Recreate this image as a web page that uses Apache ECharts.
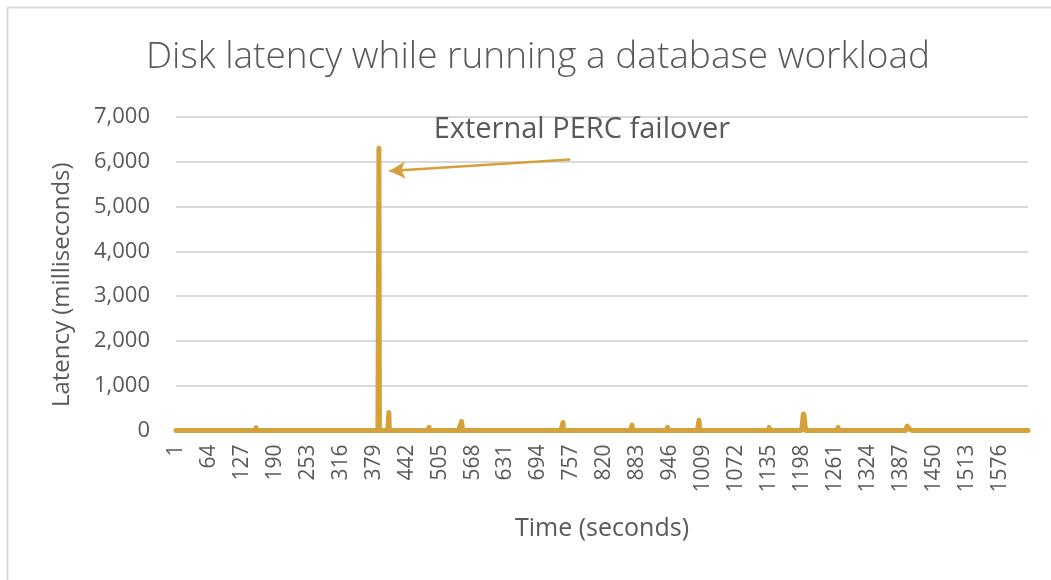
<!DOCTYPE html>
<html>
<head>
<meta charset="utf-8">
<script src="https://cdn.jsdelivr.net/npm/echarts@6/dist/echarts.min.js"></script>
<style>
html,body{margin:0;padding:0;background:#fff;}
#chart{width:1051px;height:580px;}
</style>
</head>
<body>
<div id="chart"></div>
<script>
// Time axis: seconds 1..1630
const firstSecond = 1;
const lastSecond = 1630;
// Latency is ~0 ms except at these [second, latency ms] readings
const baselineLatency = 0;
const latencySpikes = [
  [154, 60],
  [389, 6300],
  [408, 400],
  [485, 70],
  [541, 20], [543, 70], [545, 130], [547, 200], [548, 240],
  [741, 180],
  [873, 120],
  [941, 70],
  [1001, 230],
  [1135, 70],
  [1198, 80], [1199, 200], [1200, 320], [1201, 370], [1202, 320], [1203, 200], [1204, 80],
  [1267, 70],
  [1398, 40], [1399, 100], [1400, 130], [1401, 130], [1402, 100], [1403, 40]
];
const yTicks = [0, 1000, 2000, 3000, 4000, 5000, 6000, 7000];
// Annotation anchors [second, latency]
const annotationText = 'External PERC failover';
const annotationTextAt = ['777', 6719];
const arrowFrom = ['755', 6053];
const arrowTo = ['409', 5792];

const categories = [];
for (let s = firstSecond; s <= lastSecond; s++) categories.push(String(s));
const spikeMap = new Map(latencySpikes);
const latency = categories.map(c => spikeMap.has(+c) ? spikeMap.get(+c) : baselineLatency);

const gold = '#D5A13A';
const textColor = '#595959';
const font = 'Open Sans';

const chart = echarts.init(document.getElementById('chart'), null, {renderer: 'canvas'});
chart.setOption({
  animation: false,
  backgroundColor: '#fff',
  title: {
    text: 'Disk latency while running a database workload',
    left: 533,
    textAlign: 'center',
    top: 34,
    textStyle: {fontFamily: font, fontWeight: 300, fontSize: 37, color: textColor}
  },
  graphic: [{
    type: 'rect', left: 5, top: 5, silent: true,
    shape: {width: 1070, height: 600},
    style: {fill: 'none', stroke: '#d9d9d9', lineWidth: 2}
  }],
  grid: {left: 176, right: 23, top: 117, bottom: 149.5, containLabel: false},
  xAxis: {
    type: 'category',
    data: categories,
    boundaryGap: false,
    name: 'Time (seconds)',
    nameLocation: 'middle',
    nameGap: 86,
    nameTextStyle: {fontFamily: font, fontSize: 25, color: textColor},
    axisLine: {show: true, lineStyle: {color: '#d9d9d9', width: 1}},
    axisTick: {show: false},
    axisLabel: {interval: 62, rotate: 90, fontFamily: font, fontSize: 21, color: textColor, margin: 14},
    splitLine: {show: false}
  },
  yAxis: {
    type: 'value',
    min: yTicks[0],
    max: yTicks[yTicks.length - 1],
    interval: 1000,
    name: 'Latency (milliseconds)',
    nameLocation: 'middle',
    nameGap: 102,
    nameTextStyle: {fontFamily: font, fontSize: 24, color: textColor, padding: [0, 22, 0, 0]},
    axisLine: {show: false},
    axisTick: {show: false},
    axisLabel: {
      fontFamily: font, fontSize: 22, color: textColor, margin: 26,
      formatter: v => v.toLocaleString('en-US')
    },
    splitLine: {lineStyle: {color: '#d9d9d9', width: 2}}
  },
  series: [{
    type: 'line',
    data: latency,
    showSymbol: false,
    symbol: 'none',
    sampling: null,
    lineStyle: {color: gold, width: 5, cap: 'round', join: 'round'},
    itemStyle: {color: gold},
    z: 3,
    markLine: {
      silent: true,
      symbol: ['none', 'arrow'],
      symbolSize: [13, 16],
      lineStyle: {color: gold, width: 2.5, type: 'solid'},
      label: {show: false},
      data: [[{coord: arrowFrom}, {coord: arrowTo}]]
    },
    markPoint: {
      silent: true,
      symbol: 'circle',
      symbolSize: 0,
      label: {
        show: true, position: 'inside', formatter: annotationText,
        fontFamily: font, fontSize: 29, color: textColor
      },
      data: [{coord: annotationTextAt}]
    }
  }]
});
</script>
</body>
</html>
